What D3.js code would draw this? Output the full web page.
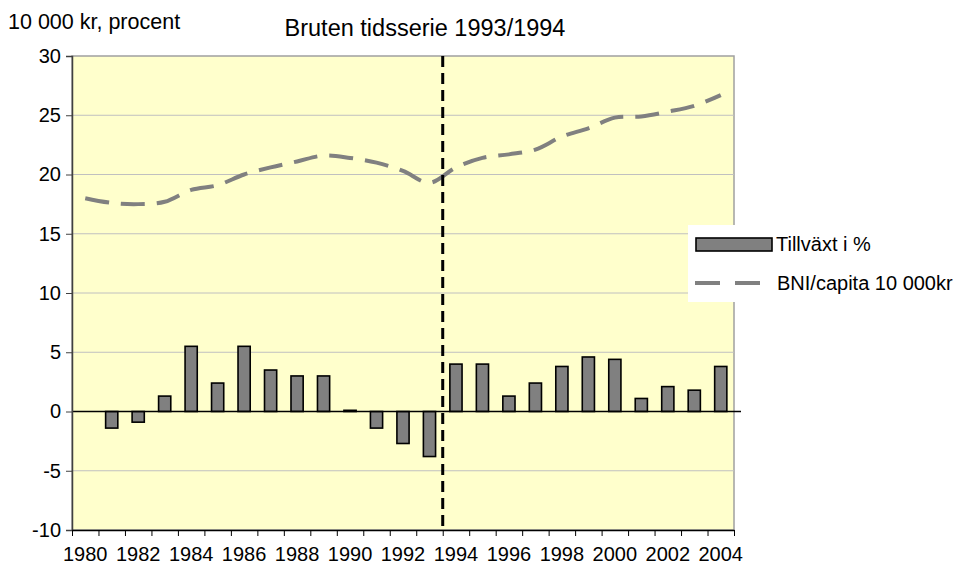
<!DOCTYPE html>
<html>
<head>
<meta charset="utf-8">
<script src="https://cdn.jsdelivr.net/npm/d3@7"></script>
<style>
  body { margin: 0; background: #fff; }
  svg text { font-family: "Liberation Sans", Arial, sans-serif; fill: #000; }
</style>
</head>
<body>
<svg id="chart" width="965" height="568"></svg>
<script>
const YEARS = d3.range(1980, 2005);
const GROWTH = [0, -1.4, -0.9, 1.3, 5.5, 2.4, 5.5, 3.5, 3.0, 3.0, 0.1, -1.4, -2.7, -3.8,
    4.0, 4.0, 1.3, 2.4, 3.8, 4.6, 4.4, 1.1, 2.1, 1.8, 3.8];
const GNI = [18.0, 17.6, 17.5, 17.7, 18.7, 19.1, 20.0, 20.6, 21.1, 21.6, 21.4, 21.0, 20.3, 19.3,
    20.6, 21.4, 21.7, 22.1, 23.2, 23.9, 24.8, 24.9, 25.3, 25.8, 26.7];
const Y_TICKS = [-10, -5, 0, 5, 10, 15, 20, 25, 30];
const X_LABELS = d3.range(1980, 2005, 2);
const BREAK_YEAR = 1994;

const margins = { top: 56, right: 231, bottom: 38, left: 72 };
const WIDTH = 965 - margins.left - margins.right;
const HEIGHT = 568 - margins.top - margins.bottom;

const svg = d3.select('#chart');
const g = svg.append('g').attr('transform', 'translate(' + margins.left + ',' + margins.top + ')');

const x = d3.scaleBand().domain(YEARS).range([0, WIDTH]);
const xEdges = d3.scaleLinear().domain([0, YEARS.length]).range([0, WIDTH]);
const y = d3.scaleLinear().domain([-10, 30]).range([HEIGHT, 0]);

// plot background
g.append('rect')
    .attr('width', WIDTH).attr('height', HEIGHT)
    .attr('fill', '#ffffcc')
    .attr('stroke', '#a0a0a0').attr('stroke-width', 1.5);

// gridlines
g.selectAll('.grid')
    .data(Y_TICKS.filter(d => d > -10 && d < 30 && d !== 0))
    .enter().append('line')
    .attr('x1', 0).attr('x2', WIDTH)
    .attr('y1', d => y(d)).attr('y2', d => y(d))
    .attr('stroke', '#c0c0c0').attr('stroke-width', 1);

// bars
const barW = x.bandwidth() * 0.46;
g.selectAll('.bar')
    .data(YEARS.map((yr, i) => ({ yr, v: GROWTH[i] })).filter(d => d.v !== 0))
    .enter().append('rect')
    .attr('x', d => x(d.yr) + (x.bandwidth() - barW) / 2)
    .attr('width', barW)
    .attr('y', d => y(Math.max(0, d.v)))
    .attr('height', d => Math.max(1, Math.abs(y(d.v) - y(0))))
    .attr('fill', '#808080')
    .attr('stroke', '#000').attr('stroke-width', 1.6);

// zero line
g.append('line')
    .attr('x1', 0).attr('x2', WIDTH + 7)
    .attr('y1', y(0)).attr('y2', y(0))
    .attr('stroke', '#000').attr('stroke-width', 1.5);

// GNI line
const line = d3.line()
    .x((d, i) => x(YEARS[i]) + x.bandwidth() / 2)
    .y(d => y(d))
    .curve(d3.curveCatmullRom.alpha(0.5));

g.append('path')
    .datum(GNI)
    .attr('d', line)
    .attr('fill', 'none')
    .attr('stroke', '#808080')
    .attr('stroke-width', 4)
    .attr('stroke-dasharray', '24,12');

// break line
const bx = x(BREAK_YEAR);
g.append('line')
    .attr('x1', bx).attr('x2', bx)
    .attr('y1', 0).attr('y2', HEIGHT)
    .attr('stroke', '#000').attr('stroke-width', 3)
    .attr('stroke-dasharray', '11,6');

// y axis
const yAxis = g.append('g')
    .call(d3.axisLeft(y).tickValues(Y_TICKS).tickFormat(d => String(d)).tickSize(6).tickPadding(5));
yAxis.select('.domain').attr('stroke', '#404040').attr('stroke-width', 1.5);
yAxis.selectAll('.tick line').attr('stroke', '#404040');
yAxis.selectAll('text').style('font-size', '20px');

// x axis
const xAxis = g.append('g')
    .attr('transform', 'translate(0,' + HEIGHT + ')')
    .call(d3.axisBottom(xEdges).tickValues(d3.range(YEARS.length + 1)).tickFormat('').tickSize(6).tickSizeOuter(0));
xAxis.select('.domain').attr('stroke', '#000').attr('stroke-width', 1.5);
xAxis.selectAll('.tick line').attr('stroke', '#000');

g.selectAll('.xlabel')
    .data(X_LABELS)
    .enter().append('text')
    .attr('x', d => x(d) + x.bandwidth() / 2)
    .attr('y', HEIGHT + 31)
    .attr('text-anchor', 'middle')
    .style('font-size', '20px')
    .text(d => d);

// titles
svg.append('text')
    .attr('x', 425).attr('y', 36)
    .attr('text-anchor', 'middle')
    .style('font-size', '23.5px')
    .text('Bruten tidsserie 1993/1994');

svg.append('text')
    .attr('x', 8).attr('y', 29)
    .style('font-size', '21.5px')
    .text('10 000 kr, procent');

// legend
const legend = svg.append('g').attr('transform', 'translate(688,225)');
legend.append('rect')
    .attr('width', 277).attr('height', 77)
    .attr('fill', '#fff');
legend.append('rect')
    .attr('x', 8).attr('y', 13).attr('width', 76).attr('height', 13)
    .attr('fill', '#808080').attr('stroke', '#000').attr('stroke-width', 1.6);
legend.append('text')
    .attr('x', 88).attr('y', 26)
    .style('font-size', '20px')
    .text('Tillväxt i %');
legend.append('line')
    .attr('x1', 7).attr('x2', 75).attr('y1', 58).attr('y2', 58)
    .attr('stroke', '#808080').attr('stroke-width', 4)
    .attr('stroke-dasharray', '25,15');
legend.append('text')
    .attr('x', 89).attr('y', 65)
    .style('font-size', '20px')
    .text('BNI/capita 10 000kr');
</script>
</body>
</html>
